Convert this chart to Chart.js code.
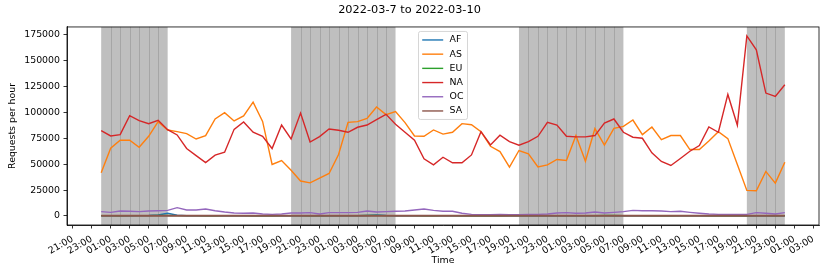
<!DOCTYPE html>
<html>
<head>
<meta charset="utf-8">
<script src="https://cdn.jsdelivr.net/npm/chart.js@4"></script>
<style>
html, body { margin: 0; padding: 0; background: #fff; }
#wrap { width: 830px; height: 277px; }
</style>
</head>
<body>
<div id="wrap"><canvas id="chart" width="830" height="277"></canvas></div>
<script>
// Hours since 2022-03-07 00:00
const hours = [0,1,2,3,4,5,6,7,8,9,10,11,12,13,14,15,16,17,18,19,20,21,22,23,
    24,25,26,27,28,29,30,31,32,33,34,35,36,37,38,39,40,41,42,43,44,45,46,47,
    48,49,50,51,52,53,54,55,56,57,58,59,60,61,62,63,64,65,66,67,68,69,70,71,72];

const regions = ['AF', 'AS', 'EU', 'NA', 'OC', 'SA'];
const colors = ['#1f77b4', '#ff7f0e', '#2ca02c', '#d62728', '#9467bd', '#8c564b'];

const afValues = [200,200,200,200,300,400,1000,2600,700,200,200,200,200,200,200,200,200,200,200,200,200,200,200,200,
    200,200,200,200,500,1000,400,200,200,200,200,200,200,200,200,200,200,200,200,200,200,200,200,200,
    200,200,200,200,200,300,200,200,200,200,200,200,200,200,200,200,200,200,200,200,200,200,200,200,200];
const asValues = [41700,65400,73100,73100,66300,76900,91000,83000,81400,79500,74300,77600,93600,99700,91700,96500,109900,91300,49700,53500,44200,33700,32000,36500,
    41000,59300,90400,91000,94200,105100,97800,100700,90100,77200,76900,83000,79000,80800,89100,88100,81400,67300,62200,47100,63200,59900,47400,49300,
    54500,53500,77600,52900,84300,68300,84500,86500,92600,78500,85900,73700,77600,77600,64100,64100,72400,81400,74700,49700,24700,24300,43000,31700,51900];
const euValues = [300,300,250,300,300,350,400,400,350,300,300,250,250,300,300,300,250,250,250,300,300,300,250,250,
    300,300,300,350,400,400,350,300,300,300,250,250,300,300,250,250,250,250,250,300,300,300,300,300,
    300,350,350,350,350,400,400,350,300,300,250,250,250,300,300,300,250,250,250,250,250,300,300,250,300];
const naValues = [82400,77200,78500,96800,92000,89100,92300,83300,78200,65100,58300,51600,58700,61500,83600,90700,80800,76900,65100,87800,74300,99300,71400,76600,
    83900,82700,80800,85600,87800,93000,98100,88500,80800,73100,55100,49300,56700,51300,51300,58900,81400,68600,77900,71800,68300,71800,76900,90400,
    87800,76900,76300,76300,77600,89700,93600,80800,76000,75000,60900,52600,48700,55500,62500,68000,85900,80800,117300,87500,173700,160300,118600,115400,126600];
const ocValues = [4200,3500,4800,4500,4200,4800,5100,5400,8000,5800,5800,6700,5100,3800,2900,2600,2900,1900,1600,1900,2900,2900,3200,1900,
    3200,3200,3200,3500,4800,3800,4200,4500,4800,5800,6700,5400,4600,4500,2600,1600,1300,1300,1600,1300,1300,1600,1600,1900,
    2900,3200,2600,2900,3800,2900,3500,4200,5400,5100,5100,4800,4200,4500,3500,2600,1900,1600,1600,1600,1600,3200,2600,1900,3200];
const saValues = [200,200,200,200,200,200,200,200,200,200,200,200,200,200,200,200,200,200,200,200,200,200,200,200,
    200,200,200,200,200,200,200,200,200,200,200,200,200,200,200,200,200,200,200,200,200,200,200,200,
    200,200,200,200,200,200,200,200,200,200,200,200,200,200,200,200,200,200,200,200,200,200,200,200,200];
const seriesValues = [afValues, asValues, euValues, naValues, ocValues, saValues];

// Night shading: start / end hour of each span
const nightStart = [0, 20, 44, 68];
const nightEnd = [7, 31, 55, 72];

const tickHours = [-3,-1,1,3,5,7,9,11,13,15,17,19,21,23,25,27,29,31,33,35,37,39,41,43,
    45,47,49,51,53,55,57,59,61,63,65,67,69,71,73,75];
const tickLabels = ['21:00','23:00','01:00','03:00','05:00','07:00','09:00','11:00','13:00','15:00','17:00','19:00',
    '21:00','23:00','01:00','03:00','05:00','07:00','09:00','11:00','13:00','15:00','17:00','19:00',
    '21:00','23:00','01:00','03:00','05:00','07:00','09:00','11:00','13:00','15:00','17:00','19:00',
    '21:00','23:00','01:00','03:00'];
const yTicks = [0, 25000, 50000, 75000, 100000, 125000, 150000, 175000];

const FONT = 'DejaVu Sans';

const nightShade = {
    id: 'nightShade',
    beforeDatasetsDraw(chart) {
        const { ctx, chartArea: a, scales: { x } } = chart;
        ctx.save();
        for (let s = 0; s < nightStart.length; s++) {
            const x0 = x.getPixelForValue(nightStart[s]);
            const x1 = x.getPixelForValue(nightEnd[s]);
            ctx.fillStyle = '#bfbfbf';
            ctx.fillRect(x0, a.top, x1 - x0, a.bottom - a.top);
            ctx.strokeStyle = '#a6a6a6';
            ctx.lineWidth = 1;
            for (let h = nightStart[s] + 1; h < nightEnd[s]; h++) {
                const px = Math.round(x.getPixelForValue(h)) + 0.5;
                ctx.beginPath();
                ctx.moveTo(px, a.top);
                ctx.lineTo(px, a.bottom);
                ctx.stroke();
            }
        }
        ctx.restore();
    }
};

const frameAndLegend = {
    id: 'frameAndLegend',
    afterDraw(chart) {
        const { ctx, chartArea: a } = chart;
        ctx.save();
        ctx.strokeStyle = '#000';
        ctx.lineWidth = 0.8;
        ctx.strokeRect(a.left, a.top, a.right - a.left, a.bottom - a.top);

        // legend, upper center
        const w = 49, rowH = 14.2;
        const left = (a.left + a.right) / 2 - w / 2;
        const top = a.top + 4.5;
        const h = 88;
        ctx.beginPath();
        ctx.roundRect(left, top, w, h, 2);
        ctx.fillStyle = 'rgba(255,255,255,0.8)';
        ctx.fill();
        ctx.strokeStyle = '#cccccc';
        ctx.lineWidth = 0.8;
        ctx.stroke();
        ctx.font = '9.4px "' + FONT + '"';
        ctx.textBaseline = 'middle';
        ctx.textAlign = 'left';
        chart.data.datasets.forEach((ds, i) => {
            const y = top + 8.5 + rowH * i;
            ctx.strokeStyle = ds.borderColor;
            ctx.lineWidth = 1.4;
            ctx.beginPath();
            ctx.moveTo(left + 3.7, y);
            ctx.lineTo(left + 24.7, y);
            ctx.stroke();
            ctx.fillStyle = '#000';
            ctx.fillText(ds.label, left + 31, y);
        });
        ctx.restore();
    }
};

new Chart(document.getElementById('chart'), {
    type: 'line',
    data: {
        datasets: regions.map((name, i) => ({
            label: name,
            data: hours.map((h, j) => ({ x: h, y: seriesValues[i][j] })),
            borderColor: colors[i],
            backgroundColor: colors[i],
            borderWidth: name === 'SA' ? 2 : 1.4,
            pointRadius: 0,
            tension: 0,
            fill: false,
            order: regions.length - i
        }))
    },
    options: {
        responsive: false,
        animation: false,
        devicePixelRatio: 1,
        layout: { padding: { left: 0, right: 11, top: 0, bottom: 0 } },
        plugins: {
            legend: { display: false },
            tooltip: { enabled: false },
            title: {
                display: true,
                text: '2022-03-7 to 2022-03-10',
                color: '#000',
                font: { family: FONT, size: 11.3, weight: 'normal' },
                padding: { top: 3.2, bottom: 10.2 }
            }
        },
        scales: {
            x: {
                type: 'linear',
                min: -3.6,
                max: 75.6,
                afterBuildTicks: s => { s.ticks = tickHours.map(v => ({ value: v })); },
                afterFit: s => { s.height = 52; },
                grid: { drawOnChartArea: false, drawTicks: true, tickLength: 3.5, color: '#000', tickColor: '#000', lineWidth: 0.8 },
                border: { display: true, color: '#000', width: 0.8 },
                ticks: {
                    autoSkip: false,
                    maxRotation: 30,
                    minRotation: 30,
                    padding: 5,
                    color: '#000',
                    font: { family: FONT, size: 9.4 },
                    callback: (v, i) => tickLabels[i]
                },
                title: {
                    display: true,
                    text: 'Time',
                    color: '#000',
                    font: { family: FONT, size: 9.4 },
                    padding: { top: 0, bottom: 10.4 }
                }
            },
            y: {
                type: 'linear',
                min: -8700,
                max: 182400,
                afterBuildTicks: s => { s.ticks = yTicks.map(v => ({ value: v })); },
                afterFit: s => { s.width = 67; },
                grid: { drawOnChartArea: false, drawTicks: true, tickLength: 3.5, color: '#000', tickColor: '#000', lineWidth: 0.8 },
                border: { display: true, color: '#000', width: 0.8 },
                ticks: {
                    padding: 3.5,
                    color: '#000',
                    font: { family: FONT, size: 9.4 },
                    callback: v => String(v)
                },
                title: {
                    display: true,
                    text: 'Requests per hour',
                    color: '#000',
                    font: { family: FONT, size: 9.4 },
                    padding: { top: 6.9, bottom: 0 }
                }
            }
        }
    },
    plugins: [nightShade, frameAndLegend]
});
</script>
</body>
</html>
